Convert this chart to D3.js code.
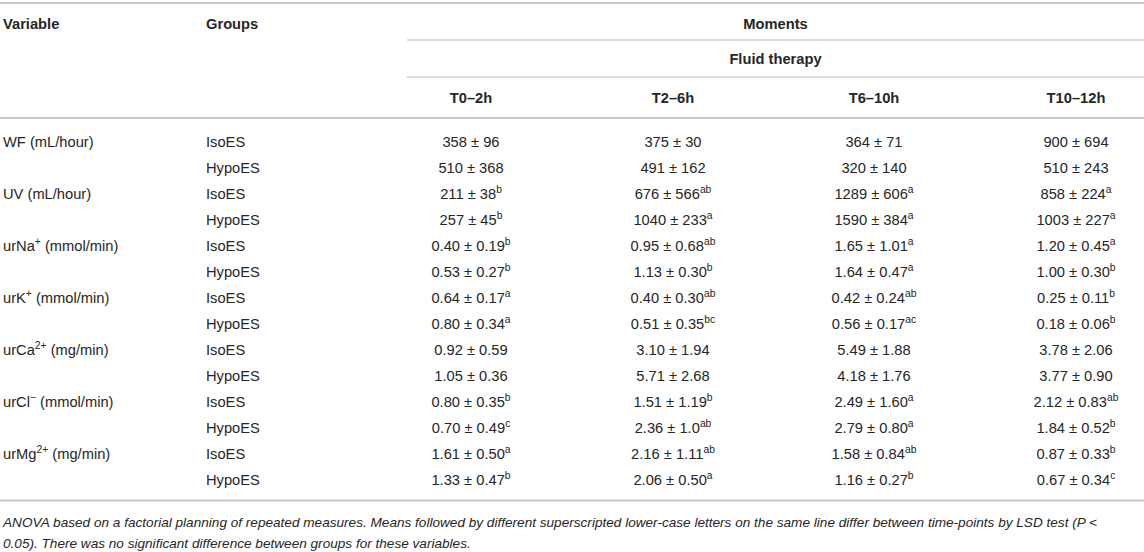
<!DOCTYPE html>
<html><head><meta charset="utf-8">
<script src="https://cdn.jsdelivr.net/npm/d3@7"></script>
<style>
html,body{margin:0;padding:0;background:#fff;}
svg text{font-family:"Liberation Sans",Arial,Helvetica,sans-serif;fill:#262626;}
</style></head>
<body><svg id="c" width="1144" height="552"></svg>
<script>
// ---- data ----
const timeCols = ["T0–2h","T2–6h","T6–10h","T10–12h"];
const varNames = ["WF","UV","urNa","urK","urCa","urCl","urMg"];
const varSups  = ["","","+","+","2+","−","2+"];
const varUnits = ["(mL/hour)","(mL/hour)","(mmol/min)","(mmol/min)","(mg/min)","(mmol/min)","(mg/min)"];
const groups = ["IsoES","HypoES"];

const meanT0 = ["358","510","211","257","0.40","0.53","0.64","0.80","0.92","1.05","0.80","0.70","1.61","1.33"];
const sdT0   = ["96","368","38","45","0.19","0.27","0.17","0.34","0.59","0.36","0.35","0.49","0.50","0.47"];
const letT0  = ["","","b","b","b","b","a","a","","","b","c","a","b"];

const meanT2 = ["375","491","676","1040","0.95","1.13","0.40","0.51","3.10","5.71","1.51","2.36","2.16","2.06"];
const sdT2   = ["30","162","566","233","0.68","0.30","0.30","0.35","1.94","2.68","1.19","1.0","1.11","0.50"];
const letT2  = ["","","ab","a","ab","b","ab","bc","","","b","ab","ab","a"];

const meanT6 = ["364","320","1289","1590","1.65","1.64","0.42","0.56","5.49","4.18","2.49","2.79","1.58","1.16"];
const sdT6   = ["71","140","606","384","1.01","0.47","0.24","0.17","1.88","1.76","1.60","0.80","0.84","0.27"];
const letT6  = ["","","a","a","a","a","ab","ac","","","a","a","ab","b"];

const meanT10 = ["900","510","858","1003","1.20","1.00","0.25","0.18","3.78","3.77","2.12","1.84","0.87","0.67"];
const sdT10   = ["694","243","224","227","0.45","0.30","0.11","0.06","2.06","0.90","0.83","0.52","0.33","0.34"];
const letT10  = ["","","a","a","a","b","b","b","","","ab","b","b","c"];

const headVariable = "Variable", headGroups = "Groups", headMoments = "Moments", headFluid = "Fluid therapy";
const footLines = [
 "ANOVA based on a factorial planning of repeated measures. Means followed by different superscripted lower-case letters on the same line differ between time-points by LSD test (P <",
 "0.05). There was no significant difference between groups for these variables."
];

// ---- build ----
const means = [meanT0, meanT2, meanT6, meanT10];
const sds = [sdT0, sdT2, sdT6, sdT10];
const lets = [letT0, letT2, letT6, letT10];
const nRows = varNames.length * groups.length;
const rowIdx = d3.range(nRows);

const svg = d3.select("#c");
const W = 1144;
const fs = 14.7;
const supFs = 10.3;
const lineColor = "#c8c8c8";

const rowStep = 26, rowTop = 141.5 - rowStep/2;
const y = d3.scaleBand().domain(rowIdx).range([rowTop, rowTop + rowStep*nRows]);
const yc = r => y(r) + y.bandwidth()/2;
const xCol = d3.scaleOrdinal().domain(timeCols).range([471, 673, 874, 1076]);
const xVar = 3, xGrp = 206, subLineX = 407;
const bottomLine = yc(nRows-1) + 21;

function hline(yy, x0, x1, w, col){
  svg.append("line").attr("x1",x0).attr("x2",x1).attr("y1",yy).attr("y2",yy)
    .attr("stroke",col||lineColor).attr("stroke-width",w);
}
hline(3,0,W,2);
hline(40,subLineX,W,1.3,"#d0d0d0");
hline(77,subLineX,W,1.3,"#d0d0d0");
hline(118,0,W,2);
hline(bottomLine,0,W,2);

function txt(t,x,yy,anchor,isBold){
  return svg.append("text").attr("x",x).attr("y",yy).attr("dy","0.35em")
    .attr("text-anchor",anchor).attr("font-size",fs).attr("font-weight",isBold?"bold":null).text(t);
}
txt(headVariable,xVar,23.5,"start",true);
txt(headGroups,xGrp,23.5,"start",true);
txt(headMoments,(subLineX+W)/2,23.5,"middle",true);
txt(headFluid,(subLineX+W)/2,58.5,"middle",true);
svg.selectAll(".th").data(timeCols).join("text").attr("class","th")
  .attr("x",d=>xCol(d)).attr("y",98).attr("dy","0.35em").attr("text-anchor","middle")
  .attr("font-weight","bold").attr("font-size",fs).text(d=>d);

// variable labels
varNames.forEach((v,i)=>{
  const t = svg.append("text").attr("x",xVar).attr("y",yc(i*2)).attr("dy","0.35em").attr("font-size",fs);
  t.append("tspan").text(v);
  if(varSups[i]) t.append("tspan").attr("font-size",supFs).attr("dy","-0.55em").text(varSups[i]);
  const u = t.append("tspan").text(" " + varUnits[i]);
  if(varSups[i]) u.attr("dy","0.39em");
});
// groups
svg.selectAll(".grp").data(rowIdx).join("text").attr("class","grp")
  .attr("x",xGrp).attr("y",yc).attr("dy","0.35em").attr("font-size",fs)
  .text(r=>groups[r%2]);

// cells
timeCols.forEach((c,ci)=>{
  rowIdx.forEach(r=>{
    const t = svg.append("text").attr("x",xCol(c)).attr("y",yc(r)).attr("dy","0.35em")
      .attr("text-anchor","middle").attr("font-size",fs);
    t.append("tspan").text(means[ci][r] + " ± " + sds[ci][r]);
    if(lets[ci][r]) t.append("tspan").attr("font-size",supFs).attr("dy","-0.55em").text(lets[ci][r]);
  });
});

// footnote
footLines.forEach((l,i)=>{
  svg.append("text").attr("x",xVar).attr("y",bottomLine+22+i*21).attr("dy","0.35em")
    .attr("font-size",13.6).attr("font-style","italic").text(l);
});
</script></body></html>
